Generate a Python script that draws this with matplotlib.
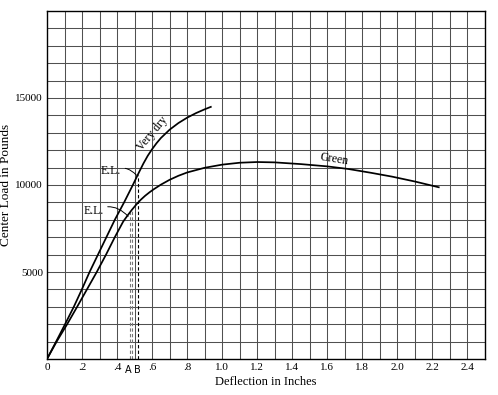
import matplotlib
matplotlib.use("Agg")
import matplotlib.pyplot as plt
import numpy as np

# Data
very_dry_x = [0, 0.052, 0.103, 0.153, 0.199, 0.243, 0.291, 0.339, 0.387, 0.44, 0.49,
              0.525, 0.55, 0.575, 0.6, 0.625, 0.65, 0.7, 0.75, 0.8, 0.85, 0.9, 0.935]
very_dry_y = [0, 1000, 2000, 3000, 4000, 5000, 6000, 7000, 8000, 9000, 10000,
              10730, 11230, 11680, 12060, 12400, 12700, 13180, 13560, 13870, 14130,
              14350, 14490]

green_x = [0, 0.055, 0.115, 0.172, 0.228, 0.284, 0.337, 0.387, 0.435, 0.46, 0.485,
           0.51, 0.535, 0.56, 0.585, 0.61, 0.65, 0.7, 0.75, 0.8, 0.9, 1.0, 1.1, 1.2,
           1.3, 1.45, 1.6, 1.72, 1.85, 1.97, 2.1, 2.236]
green_y = [0, 1000, 2000, 3000, 4000, 5000, 6000, 7000, 7900, 8250, 8580,
           8880, 9150, 9380, 9580, 9760, 10020, 10300, 10530, 10720, 10990, 11170,
           11280, 11320, 11300, 11200, 11070, 10920, 10700, 10480, 10200, 9870]

x_tick_vals = [0, 0.2, 0.4, 0.6, 0.8, 1.0, 1.2, 1.4, 1.6, 1.8, 2.0, 2.2, 2.4]
x_tick_labels = ["0", ".2", ".4", ".6", ".8", "1.0", "1.2", "1.4", "1.6", "1.8", "2.0", "2.2", "2.4"]
y_tick_vals = [5000, 10000, 15000]
y_tick_labels = ["5000", "10000", "15000"]

# Elastic limit markers
a_lines = [0.474, 0.487]
b_line = 0.518

plt.rcParams['font.family'] = ['Liberation Serif', 'DejaVu Serif']

fig = plt.figure(figsize=(4.98, 3.95), dpi=100)
ax = fig.add_axes([47/498, 1 - 359/395, 438/498, 348/395])
ax.set_xlim(0, 2.5)
ax.set_ylim(0, 20000)

# grid
for gx in np.arange(0.1, 2.5, 0.1):
    ax.axvline(gx, color='#505050', lw=0.75, zorder=1)
for gy in np.arange(1000, 20000, 1000):
    ax.axhline(gy, color='#505050', lw=0.75, zorder=1)

for s in ax.spines.values():
    s.set_color('black')
    s.set_linewidth(1.0)

ax.set_xticks(x_tick_vals)
ax.set_xticklabels(x_tick_labels, fontsize=8)
ax.set_yticks(y_tick_vals)
ax.set_yticklabels(y_tick_labels, fontsize=8)
ax.tick_params(length=0, pad=3)

ax.plot(very_dry_x, very_dry_y, color='black', lw=1.25, zorder=3,
        solid_joinstyle='round')
ax.plot(green_x, green_y, color='black', lw=1.25, zorder=3, solid_joinstyle='round')

# dashed elastic limit lines
for xa in a_lines:
    ax.plot([xa, xa], [0, np.interp(xa, green_x, green_y)], color='#777777', lw=0.8,
            ls=(0, (3, 2)), zorder=2)
ax.plot([b_line, b_line], [0, np.interp(b_line, very_dry_x, very_dry_y)], color='black',
        lw=0.8, ls=(0, (3, 2)), zorder=2)

ax.text(0.463, -330, "A", fontsize=7, family='DejaVu Sans', ha='center', va='top')
ax.text(0.513, -330, "B", fontsize=7, family='DejaVu Sans', ha='center', va='top')

# E.L. annotations
ax.annotate("E.L.", xy=(0.511, 10560), xytext=(0.365, 10780), fontsize=8.5,
            ha='center', va='center',
            arrowprops=dict(arrowstyle='-', lw=0.7, color='black',
                            connectionstyle='arc3,rad=-0.4', shrinkA=1, shrinkB=0))
ax.annotate("E.L.", xy=(0.463, 8200), xytext=(0.265, 8480), fontsize=8.5,
            ha='center', va='center',
            arrowprops=dict(arrowstyle='-', lw=0.7, color='black',
                            connectionstyle='arc3,rad=-0.4', shrinkA=1, shrinkB=0))

ax.text(0.6, 12980, "Very dry", fontsize=8.5, rotation=50, ha='center', va='center')
ax.text(1.64, 11480, "Green", fontsize=8.5, rotation=-9, ha='center', va='center')

ax.set_xlabel("Deflection in Inches", fontsize=9, labelpad=3)
ax.set_ylabel("Center Load in Pounds", fontsize=9.5)
ax.yaxis.set_label_coords(-0.08, 0.5)

fig.savefig("out.png", dpi=100)
